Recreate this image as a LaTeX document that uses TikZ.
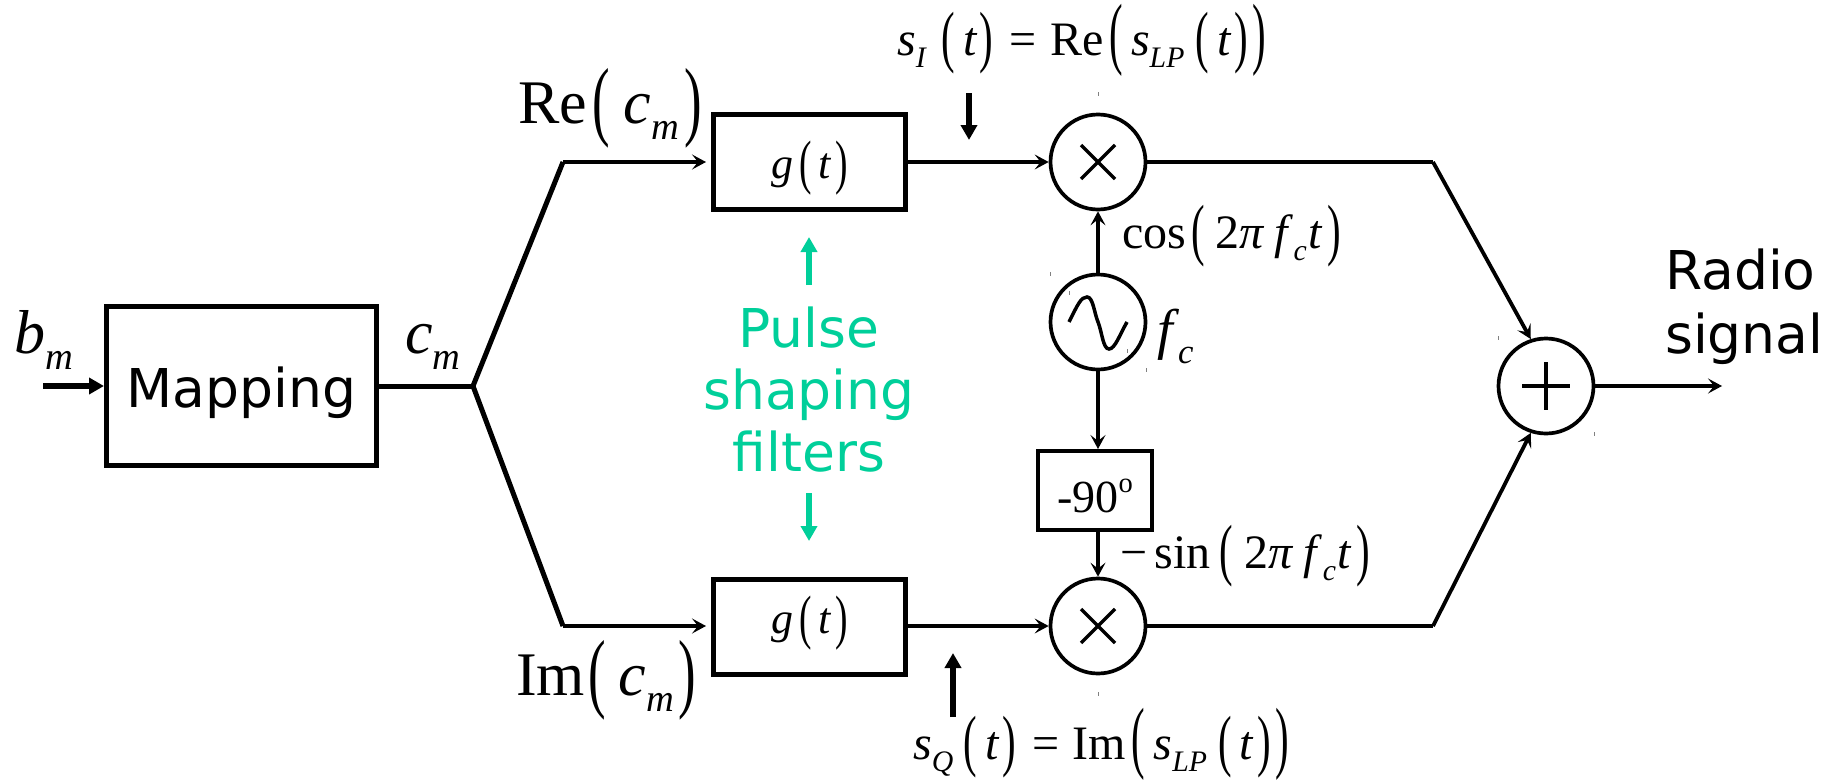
\documentclass[tikz,border=0pt]{standalone}
\usepackage{fontspec}
\usepackage{graphicx}
\setmainfont{Liberation Serif}
\newfontfamily\dejavu{DejaVu Sans}
\usetikzlibrary{arrows.meta}
\definecolor{pulsegreen}{HTML}{00CF9A}
\newcommand{\opn}[1][1.42]{\raisebox{-.1em}{\scalebox{.85}[#1]{(}}}
\newcommand{\cls}[1][1.42]{\raisebox{-.1em}{\scalebox{.85}[#1]{)}}}
\newcommand{\low}[1]{\raisebox{-.27em}{\scalebox{.62}{\textit{#1}}}}
\newcommand{\gp}[1]{\hspace{#1em}}
\newcommand{\goft}{\textit{g}\gp{.15}\opn[1.36]\gp{.15}\textit{t}\gp{.08}\cls[1.36]\gp{.13}}
\begin{document}
\begin{tikzpicture}[
    x=1pt, y=-1pt,
    box/.style={rectangle, draw, inner sep=0pt},
    mixer/.style={circle, draw, line width=3.7pt, minimum size=95pt, inner sep=0pt},
    arrow/.style={-{Stealth[length=14pt,width=15pt,inset=6pt]}, line width=3.8pt},
    wire/.style={line width=3.8pt},
    heavy/.style={line width=5pt},
    pointer/.style={-{Triangle[length=15pt,width=16pt]}, line width=5.5pt},
    eqn/.style={anchor=base west, inner sep=0pt, font=\fontsize{48}{48}\selectfont},
    bigeqn/.style={anchor=base west, inner sep=0pt, font=\fontsize{62}{62}\selectfont},
    sans/.style={inner sep=0pt, font=\dejavu\fontsize{53.5}{62}\selectfont},
    gbox/.style={box, line width=5pt, minimum width=192pt, minimum height=95pt, text depth=10pt, font=\fontsize{44}{44}\selectfont},
    speck/.style={gray, line width=1pt}
]
\useasboundingbox (0,0) rectangle (1825,779);

\node[box, heavy, minimum width=270pt, minimum height=159pt, sans, text height=52pt, text depth=10pt] (mapping) at (241.5,386) {Mapping};
\node[gbox, text height=42pt] (gtop) at (809.5,162) {\goft};
\node[gbox, text height=23pt] (gbot) at (809.5,626.5) {\goft};
\node[box, line width=4pt, minimum width=114pt, minimum height=79pt, text height=53pt, text depth=10pt, font=\fontsize{46}{46}\selectfont] (shifter) at (1095,490.5) {-90\raisebox{.42em}{\scalebox{.62}{o}}};

\node[mixer] (multtop) at (1098,162) {};
\node[mixer] (osc) at (1098,322) {};
\node[mixer] (multbot) at (1098,626) {};
\node[mixer] (adder) at (1546,386) {};

\coordinate (bmstart) at (43,386);
\coordinate (split) at (473,386);
\coordinate (bendtop) at (563,162);
\coordinate (bendbot) at (563,626);
\coordinate (outtop) at (1433,162);
\coordinate (outbot) at (1433,626);
\coordinate (radioend) at (1722,386);

\draw[pointer] (bmstart) -- (mapping.west);
\draw[heavy] (mapping.east) -- (split);
\draw[heavy, line join=round] (bendtop) -- (split) -- (bendbot);
\draw[arrow, shorten >=5pt] (bendtop) -- (gtop.west |- bendtop);
\draw[arrow, shorten >=5pt] (bendbot) -- (gbot.west |- bendbot);
\draw[arrow] (gtop.east |- multtop) -- (multtop.west);
\draw[arrow] (gbot.east |- multbot) -- (multbot.west);
\draw[arrow] (osc.north) -- (multtop.south);
\draw[arrow] (osc.south) -- (osc.south |- shifter.north);
\draw[arrow] (multbot.north |- shifter.south) -- (multbot.north);
\draw[wire] (multtop.east) -- (outtop);
\draw[wire] (multbot.east) -- (outbot);
\draw[arrow] (outtop) -- (adder.108);
\draw[arrow] (outbot) -- (adder.252);
\draw[arrow] (adder.east) -- (radioend);

\foreach \n in {multtop, multbot} {
    \draw[line width=3.5pt] (\n.center) +(-17,-17) -- +(17,17);
    \draw[line width=3.5pt] (\n.center) +(-17,17) -- +(17,-17);
}
\draw[line width=3.5pt] (adder.center) +(-24,0) -- +(24,0);
\draw[line width=3.5pt] (adder.center) +(0,-24) -- +(0,24);
\begin{scope}[shift={(osc.center)}]
    \draw[line width=3.5pt] (-29,0) .. controls (-20,-18) and (-17,-25) .. (-11,-25) .. controls (-5,-25) and (-4,-10) .. (0,0) .. controls (4,10) and (5,27) .. (11,27) .. controls (17,27) and (22,12) .. (29,0);
\end{scope}

\coordinate (itip) at (969,140);
\coordinate (itail) at (969,93);
\coordinate (qtip) at (953,653);
\coordinate (qtail) at (953,717);
\draw[pointer] (itail) -- (itip);
\draw[pointer] (qtail) -- (qtip);

\node[sans, text=pulsegreen, align=center] (pulse) at (809,390) {Pulse\\shaping\\filters};
\coordinate (greenup) at (809,285);
\coordinate (greentop) at (809,237);
\coordinate (greendown) at (809,493);
\coordinate (greenbot) at (809,541);
\draw[pointer, pulsegreen] (greenup) -- (greentop);
\draw[pointer, pulsegreen] (greendown) -- (greenbot);

\node[bigeqn] (bmlabel) at (14,353) {\textit{b}\low{m}};
\node[bigeqn] (cmlabel) at (405,353) {\textit{c}\low{m}};
\node[bigeqn] (relabel) at (518,123) {Re\gp{.08}\opn\gp{.23}\textit{c}\low{m}\gp{.08}\cls};
\node[bigeqn] (imlabel) at (516,695) {Im\gp{.06}\opn\gp{.2}\textit{c}\low{m}\gp{.08}\cls};
\node[bigeqn, font=\fontsize{56}{56}\selectfont] (fclabel) at (1157,348) {\textit{f}\gp{-.02}\low{c}};

\node[eqn] (silabel) at (897,55) {\textit{s}\low{I}\gp{.3}\opn\gp{.17}\textit{t}\gp{.05}\cls\gp{.34}=\gp{.28}Re\gp{.12}\opn[1.66]\gp{.17}\textit{s}\low{LP}\gp{.23}\opn\gp{.17}\textit{t}\gp{.06}\cls\gp{.1}\cls[1.66]};
\node[eqn] (sqlabel) at (913,759) {\textit{s}\low{Q}\gp{.22}\opn\gp{.17}\textit{t}\gp{.05}\cls\gp{.34}=\gp{.28}Im\gp{.12}\opn[1.66]\gp{.17}\textit{s}\low{LP}\gp{.23}\opn\gp{.17}\textit{t}\gp{.06}\cls\gp{.1}\cls[1.66]};
\node[eqn] (coslabel) at (1122,248) {cos\gp{.12}\opn\gp{.2}2\textit{π}\gp{.22}\textit{f}\low{c}\gp{.03}\textit{t}\gp{.1}\cls};
\node[eqn] (sinlabel) at (1120,568) {−\gp{.15}sin\gp{.18}\opn\gp{.24}2\textit{π}\gp{.22}\textit{f}\low{c}\gp{.03}\textit{t}\gp{.1}\cls};

\node[sans, anchor=base west] (radio) at (1665,289) {Radio};
\node[sans, anchor=base west] (signal) at (1665,353) {signal};

\foreach \p in {(1098,94),(1050,274),(1069,293),(1127,351),(1146,370),(1098,694),(1498,338),(1594,434)} {
    \draw[speck] \p +(0,-2) -- +(0,2);
}
\end{tikzpicture}
\end{document}
